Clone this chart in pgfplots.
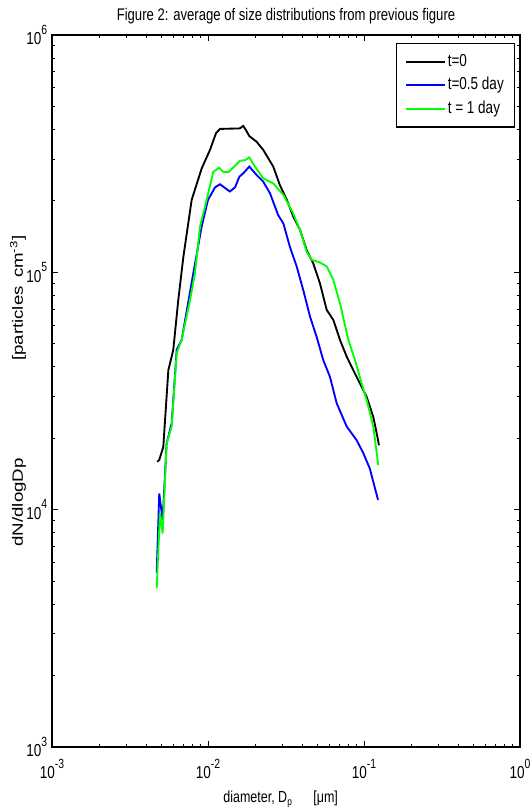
\documentclass[border=0pt]{standalone}
\usepackage{fontspec}
\setmainfont{Liberation Sans}[FakeStretch=0.78]
\newfontfamily\plainsans{Liberation Sans}
\usepackage{pgfplots}
\pgfplotsset{compat=1.18}
\usepackage{graphicx}
\newcommand\ex[1]{\raisebox{0.62em}{\fontsize{10pt}{10pt}\selectfont #1}}

% diameter (um) vs dN/dlogDp
\begin{document}
\begin{tikzpicture}
\useasboundingbox (-39pt,-48pt) rectangle (359.25pt,560.25pt);
\begin{axis}[
  xmode=log, ymode=log,
  scale only axis,
  width=351pt, height=534pt,
  xmin=1e-3, xmax=1, ymin=1e3, ymax=1e6,
  xtick={1e-3,1e-2,1e-1,1},
  xticklabels={10\ex{-3},10\ex{-2},10\ex{-1},10\ex{0}},
  minor xtick={0.002,0.003,0.004,0.005,0.006,0.007,0.008,0.009,
    0.02,0.03,0.04,0.05,0.06,0.07,0.08,0.09,0.2,0.3,0.4,0.5,0.6,0.7,0.8,0.9},
  ytick={1e3,1e4,1e5,1e6},
  yticklabels={10\ex{3},10\ex{4},10\ex{5},10\ex{6}},
  minor ytick={2e3,3e3,4e3,5e3,6e3,7e3,8e3,9e3,2e4,3e4,4e4,5e4,6e4,7e4,8e4,9e4,
    2e5,3e5,4e5,5e5,6e5,7e5,8e5,9e5},
  tick align=inside,
  major tick length=4.5pt, minor tick length=2.5pt,
  axis line style={line width=0.9pt},
  every tick/.style={black, line width=0.6pt},
  tick label style={font=\fontsize{13pt}{15pt}\selectfont},
  xticklabel style={anchor=base, yshift=-24pt},
  title style={font=\fontsize{12.6pt}{15pt}\selectfont,
    at={(axis description cs:0.5,1)}, anchor=base, yshift=4.5pt},
  title={Figure 2: average of size distributions from previous figure},
  xlabel style={font=\fontsize{12pt}{14pt}\selectfont,
    at={(axis description cs:0.5,0)}, anchor=base, yshift=-42pt, xshift=-4pt},
  xlabel={diameter, D\textsubscript{p}\hspace{1.3em}[μm]},
  ylabel style={at={(axis description cs:0,0.5)}, anchor=center, yshift=25.5pt},
  ylabel={\scalebox{1}[0.8]{\plainsans\fontsize{14pt}{16pt}\selectfont
    dN/dlogDp\hspace{73pt}[particles\ \,cm\textsuperscript{-3}]}},
  legend style={at={(1,1)}, anchor=north east, xshift=-3.75pt, yshift=-6pt,
    font=\fontsize{13pt}{15pt}\selectfont, draw=black, line width=0.8pt,
    inner xsep=6.5pt, inner ysep=6pt,
    nodes={text height=9.5pt, text depth=2.7pt, inner sep=1.5pt},
    cells={anchor=west}, row sep=2.5pt},
  legend image code/.code={\draw[#1, line width=1.5pt] (0pt,0pt) -- (29pt,0pt);},
]
\addplot[black, line width=1.4pt] coordinates {
(4.73e-3,1.59e4) (4.87e-3,1.62e4) (5.17e-3,1.84e4) (5.57e-3,3.87e4) (5.99e-3,4.71e4)
(6.45e-3,7.64e4) (6.95e-3,1.16e5) (7.86e-3,2.02e5) (9.11e-3,2.74e5) (1.03e-2,3.28e5)
(1.126e-2,3.86e5) (1.194e-2,4.02e5) (1.60e-2,4.04e5) (1.68e-2,4.14e5) (1.75e-2,3.98e5)
(1.84e-2,3.75e5) (2.05e-2,3.55e5) (2.26e-2,3.28e5) (2.62e-2,2.79e5) (2.89e-2,2.33e5)
(3.20e-2,2.02e5) (3.52e-2,1.72e5) (3.89e-2,1.51e5) (4.29e-2,1.24e5) (4.73e-2,1.09e5)
(5.22e-2,8.99e4) (5.77e-2,6.94e4) (6.36e-2,6.30e4) (7.02e-2,5.19e4) (7.75e-2,4.41e4)
(8.54e-2,3.87e4) (9.42e-2,3.40e4) (0.104,2.99e4) (0.1147,2.46e4) (0.1206,2.10e4)
(0.1248,1.87e4)
};
\addlegendentry{t=0}
\addplot[blue, line width=1.4pt] coordinates {
(4.69e-3,5.41e3) (4.87e-3,1.17e4) (5.12e-3,9.04e3) (5.43e-3,1.90e4) (5.85e-3,2.31e4)
(6.30e-3,4.71e4) (6.78e-3,5.19e4) (8.05e-3,9.91e4) (9.11e-3,1.56e5) (1.00e-2,2.02e5)
(1.109e-2,2.28e5) (1.194e-2,2.35e5) (1.38e-2,2.19e5) (1.49e-2,2.28e5) (1.59e-2,2.53e5)
(1.68e-2,2.61e5) (1.84e-2,2.79e5) (2.05e-2,2.57e5) (2.26e-2,2.41e5) (2.50e-2,2.15e5)
(2.82e-2,1.74e5) (3.04e-2,1.61e5) (3.35e-2,1.28e5) (3.70e-2,1.06e5) (4.08e-2,8.42e4)
(4.51e-2,6.50e4) (4.97e-2,5.35e4) (5.48e-2,4.27e4) (6.05e-2,3.63e4) (6.68e-2,2.81e4)
(7.75e-2,2.24e4) (8.98e-2,1.96e4) (9.90e-2,1.73e4) (0.109,1.49e4) (0.123,1.10e4)
};
\addlegendentry{t=0.5 day}
\addplot[green, line width=1.4pt] coordinates {
(4.69e-3,4.66e3) (4.92e-3,9.65e3) (5.12e-3,7.94e3) (5.43e-3,1.90e4) (5.85e-3,2.24e4)
(6.30e-3,4.57e4) (6.78e-3,5.19e4) (7.67e-3,7.64e4) (8.25e-3,9.93e4) (8.89e-3,1.56e5)
(9.81e-3,2.02e5) (1.081e-2,2.65e5) (1.177e-2,2.76e5) (1.253e-2,2.65e5) (1.349e-2,2.64e5)
(1.474e-2,2.79e5) (1.60e-2,2.95e5) (1.73e-2,2.97e5) (1.84e-2,3.05e5) (2.00e-2,2.79e5)
(2.26e-2,2.49e5) (2.62e-2,2.37e5) (3.04e-2,2.12e5) (3.52e-2,1.77e5) (3.89e-2,1.51e5)
(4.29e-2,1.22e5) (4.62e-2,1.13e5) (5.22e-2,1.10e5) (5.77e-2,1.06e5) (6.36e-2,9.29e4)
(7.02e-2,7.40e4) (7.94e-2,5.19e4) (8.76e-2,4.27e4) (9.66e-2,3.40e4) (0.104,2.90e4)
(0.1147,2.24e4) (0.1235,1.54e4)
};
\addlegendentry{t = 1 day}
\end{axis}
\end{tikzpicture}
\end{document}
